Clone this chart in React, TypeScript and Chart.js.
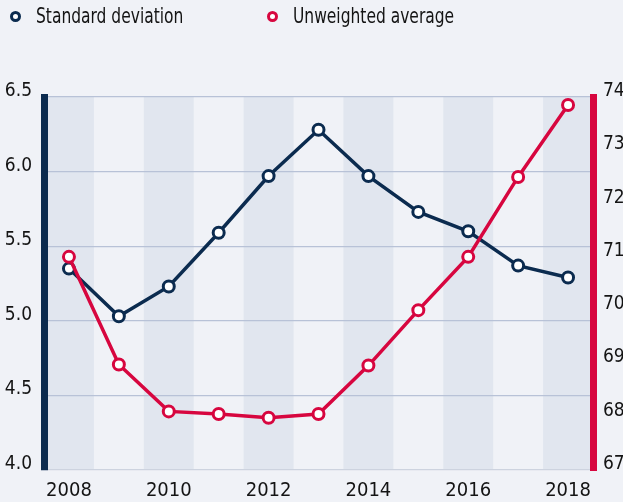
import React, { useEffect, useRef } from "react";
import { Chart, registerables } from "chart.js";

Chart.register(...registerables);

const years = ["2008", "2009", "2010", "2011", "2012", "2013", "2014", "2015", "2016", "2017", "2018"];
const stdDev = [5.35, 5.03, 5.23, 5.59, 5.97, 6.28, 5.97, 5.73, 5.6, 5.37, 5.29];
const unweightedAvg = [71.0, 68.98, 68.1, 68.05, 67.98, 68.05, 68.96, 70.0, 71.0, 72.5, 73.85];
const legendLabels = ["Standard deviation", "Unweighted average"];

const NAVY = "#0b2b4f";
const RED = "#d7063f";
const BG = "#f0f2f7";
const STRIPE = "#e1e6ef";
const GRID = "#b8c2d7";
const TEXT = "#141414";
const FONT = "'Liberation Sans Narrow', 'DejaVu Sans Condensed', 'Roboto Condensed', 'Open Sans', sans-serif";

const stripesPlugin = {
  id: "stripes",
  beforeDraw(chart: any) {
    const { ctx, chartArea, scales } = chart;
    ctx.save();
    ctx.fillStyle = BG;
    ctx.fillRect(0, 0, chart.width, chart.height);
    const x = scales.x;
    const half = chartArea.width / years.length / 2;
    ctx.fillStyle = STRIPE;
    for (let i = 0; i < years.length; i += 2) {
      const px = x.getPixelForValue(i);
      ctx.fillRect(px - half, chartArea.top, half * 2, chartArea.bottom - chartArea.top);
    }
    ctx.restore();
  },
};

export default function App() {
  const ref = useRef<HTMLCanvasElement | null>(null);
  useEffect(() => {
    if (!ref.current) return;
    const chart = new Chart(ref.current, {
      type: "line",
      data: {
        labels: years,
        datasets: [
          {
            label: legendLabels[0],
            data: stdDev,
            yAxisID: "y",
            borderColor: NAVY,
            backgroundColor: "#ffffff",
            pointBackgroundColor: "#ffffff",
            pointBorderColor: NAVY,
            pointBorderWidth: 3,
            pointRadius: 5.5,
            borderWidth: 3.5,
            tension: 0,
            order: 1,
          },
          {
            label: legendLabels[1],
            data: unweightedAvg,
            yAxisID: "y1",
            borderColor: RED,
            backgroundColor: "#ffffff",
            pointBackgroundColor: "#ffffff",
            pointBorderColor: RED,
            pointBorderWidth: 3,
            pointRadius: 5.5,
            borderWidth: 3.5,
            tension: 0,
            order: 0,
          },
        ],
      },
      options: {
        animation: false,
        responsive: false,
        layout: { padding: { top: 97, left: 0, right: 0, bottom: 0 } },
        plugins: { legend: { display: false }, tooltip: { enabled: false } },
        scales: {
          x: {
            type: "category",
            offset: true,
            grid: { display: false, drawTicks: false },
            border: { display: false },
            ticks: {
              color: TEXT,
              font: { family: FONT, size: 20 },
              padding: 9,
              maxRotation: 0,
              autoSkip: false,
              callback: (_v: any, i: number) => (i % 2 === 0 ? years[i] : ""),
            },
            afterFit(s: any) {
              s.height = 32;
            },
          },
          y: {
            position: "left",
            min: 4,
            max: 6.5,
            grid: {
              color: (c: any) => (c.tick && c.tick.value === 4 ? "#cdd3df" : GRID),
              lineWidth: 1.3,
              drawTicks: false,
            },
            border: { display: true, color: NAVY, width: 7 },
            ticks: {
              stepSize: 0.5,
              color: TEXT,
              font: { family: FONT, size: 19 },
              padding: 12,
              labelOffset: -6,
              callback: (v: any) => Number(v).toFixed(1),
            },
            afterFit(s: any) {
              s.width = 44;
            },
          },
          y1: {
            position: "right",
            min: 67,
            max: 74,
            grid: { drawOnChartArea: false, drawTicks: false },
            border: { display: true, color: RED, width: 7 },
            ticks: {
              stepSize: 1,
              color: TEXT,
              font: { family: FONT, size: 19 },
              padding: 10,
              labelOffset: -6,
            },
            afterFit(s: any) {
              s.width = 30;
            },
          },
        },
      },
      plugins: [stripesPlugin],
    });
    return () => chart.destroy();
  }, []);

  const legendItem = (color: string, label: string, left: number) => (
    <div style={{ position: "absolute", left, top: 3, height: 26, display: "flex", alignItems: "center" }}>
      <span
        style={{
          display: "inline-block",
          width: 5,
          height: 5,
          borderRadius: "50%",
          border: `3.3px solid ${color}`,
          background: "#ffffff",
          marginRight: 15,
        }}
      />
      <span
        style={{
          fontFamily: FONT,
          fontSize: 21,
          color: TEXT,
          lineHeight: "26px",
          display: "inline-block",
          transform: "scaleX(0.82)",
          transformOrigin: "left center",
          whiteSpace: "nowrap",
        }}
      >
        {label}
      </span>
    </div>
  );

  return (
    <div style={{ position: "fixed", left: 0, top: 0, width: 623, height: 502, background: BG, overflow: "hidden" }}>
      <canvas ref={ref} width={623} height={502} style={{ position: "absolute", left: 0, top: 0 }} />
      {legendItem(NAVY, legendLabels[0], 10)}
      {legendItem(RED, legendLabels[1], 267)}
    </div>
  );
}
